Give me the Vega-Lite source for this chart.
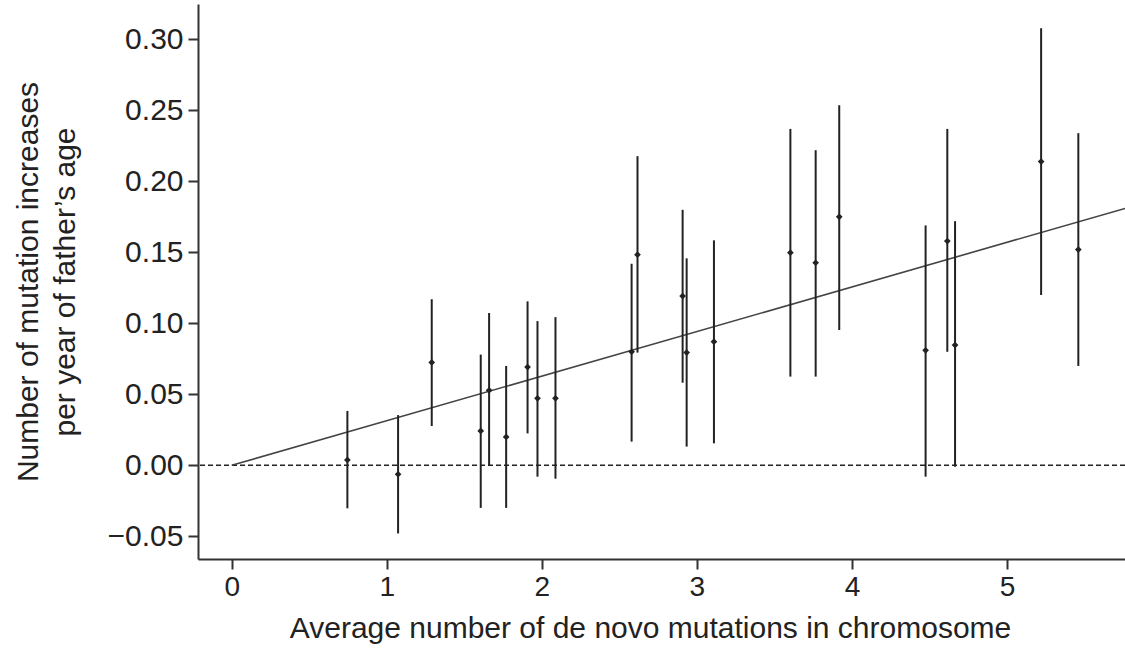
{
  "$schema": "https://vega.github.io/schema/vega-lite/v6.json",
  "autosize": "none",
  "width": 927,
  "height": 555,
  "padding": {"left": 198, "top": 4, "right": 0, "bottom": 97},
  "background": "white",
  "config": {
    "view": {"stroke": null},
    "axis": {
      "grid": false,
      "domainColor": "#333",
      "domainWidth": 2,
      "tickColor": "#333",
      "tickWidth": 2,
      "tickSize": 10,
      "labelColor": "#222",
      "titleColor": "#222",
      "labelFont": "Liberation Sans",
      "titleFont": "Liberation Sans",
      "titleFontWeight": "normal"
    }
  },
  "datasets": {
    "points": [
      {"x": 0.746, "y": 0.0038, "lo": -0.0303, "hi": 0.0383},
      {"x": 1.073, "y": -0.0063, "lo": -0.048, "hi": 0.0354},
      {"x": 1.29, "y": 0.0725, "lo": 0.0277, "hi": 0.117},
      {"x": 1.606, "y": 0.0242, "lo": -0.030, "hi": 0.078},
      {"x": 1.66, "y": 0.0528, "lo": 0.0, "hi": 0.1073},
      {"x": 1.77, "y": 0.020, "lo": -0.030, "hi": 0.070},
      {"x": 1.908, "y": 0.0692, "lo": 0.0225, "hi": 0.1155},
      {"x": 1.972, "y": 0.0472, "lo": -0.008, "hi": 0.1016},
      {"x": 2.088, "y": 0.0472, "lo": -0.0094, "hi": 0.1044},
      {"x": 2.579, "y": 0.080, "lo": 0.0167, "hi": 0.142},
      {"x": 2.617, "y": 0.1484, "lo": 0.0794, "hi": 0.2178},
      {"x": 2.908, "y": 0.1192, "lo": 0.0582, "hi": 0.180},
      {"x": 2.934, "y": 0.0794, "lo": 0.0132, "hi": 0.1458},
      {"x": 3.11, "y": 0.0871, "lo": 0.0155, "hi": 0.1585},
      {"x": 3.603, "y": 0.1498, "lo": 0.0625, "hi": 0.237},
      {"x": 3.766, "y": 0.1427, "lo": 0.0625, "hi": 0.222},
      {"x": 3.918, "y": 0.1751, "lo": 0.0953, "hi": 0.2537},
      {"x": 4.475, "y": 0.081, "lo": -0.008, "hi": 0.169},
      {"x": 4.615, "y": 0.158, "lo": 0.080, "hi": 0.237},
      {"x": 4.665, "y": 0.0847, "lo": -0.001, "hi": 0.172},
      {"x": 5.22, "y": 0.214, "lo": 0.120, "hi": 0.308},
      {"x": 5.46, "y": 0.152, "lo": 0.070, "hi": 0.234}
    ],
    "fit": [
      {"x": 0, "y": 0},
      {"x": 5.761, "y": 0.181}
    ]
  },
  "layer": [
    {
      "data": {"values": [{"y": 0}]},
      "mark": {"type": "rule", "color": "#222", "strokeWidth": 1.5, "strokeDash": [5, 3]},
      "encoding": {
        "y": {"field": "y", "type": "quantitative", "scale": {"domain": [-0.066, 0.325]}}
      }
    },
    {
      "data": {"name": "fit"},
      "mark": {"type": "line", "color": "#444", "strokeWidth": 1.6, "clip": true},
      "encoding": {
        "x": {"field": "x", "type": "quantitative"},
        "y": {"field": "y", "type": "quantitative"}
      }
    },
    {
      "data": {"name": "points"},
      "mark": {"type": "rule", "color": "#222", "strokeWidth": 2},
      "encoding": {
        "x": {"field": "x", "type": "quantitative"},
        "y": {"field": "lo", "type": "quantitative"},
        "y2": {"field": "hi"}
      }
    },
    {
      "data": {"name": "points"},
      "mark": {"type": "point", "shape": "diamond", "filled": true, "color": "#222", "size": 45, "opacity": 1},
      "encoding": {
        "x": {
          "field": "x", "type": "quantitative",
          "scale": {"domain": [-0.2174, 5.761], "nice": false, "zero": false},
          "axis": {
            "title": "Average number of de novo mutations in chromosome",
            "values": [0, 1, 2, 3, 4, 5],
            "format": "d",
            "labelFontSize": 28,
            "titleFontSize": 30,
            "labelPadding": 4,
            "titlePadding": 12,
            "titleX": 452
          }
        },
        "y": {
          "field": "y", "type": "quantitative",
          "scale": {"domain": [-0.066, 0.325], "nice": false, "zero": false},
          "axis": {
            "title": ["Number of mutation increases", "per year of father’s age"],
            "values": [-0.05, 0, 0.05, 0.1, 0.15, 0.2, 0.25, 0.3],
            "format": ".2f",
            "labelFontSize": 30,
            "titleFontSize": 30,
            "titleLineHeight": 37,
            "labelPadding": 5,
            "titlePadding": 27
          }
        }
      }
    }
  ]
}
